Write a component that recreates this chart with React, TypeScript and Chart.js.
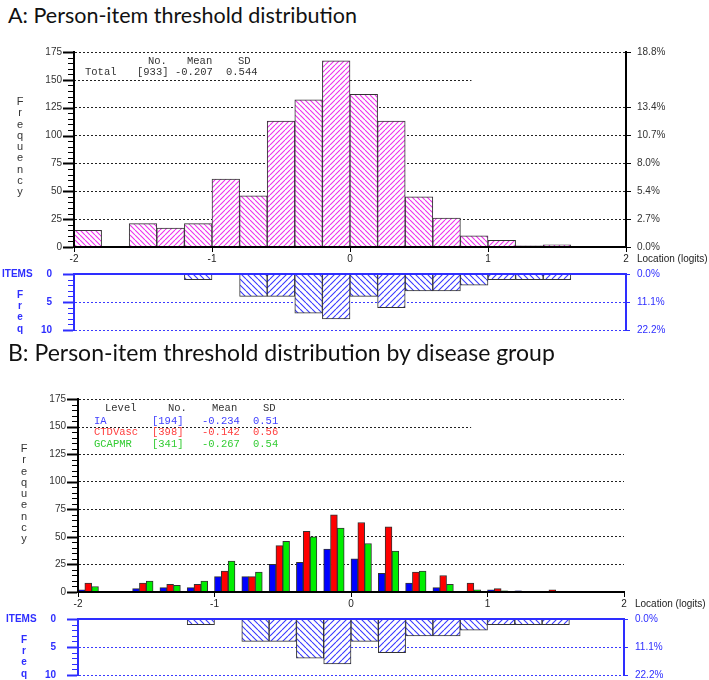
import React, { useEffect, useRef } from 'react';
import { Chart, registerables } from 'chart.js';

Chart.register(...registerables);

// ---------------- data ----------------
const binStarts = ['-2.0', '-1.8', '-1.6', '-1.4', '-1.2', '-1.0', '-0.8', '-0.6', '-0.4', '-0.2',
  '0.0', '0.2', '0.4', '0.6', '0.8', '1.0', '1.2', '1.4', '1.6', '1.8'];
const totalCounts = [15, 0, 21, 17, 21, 61, 46, 113, 132, 167, 137, 113, 45, 26, 10, 6, 1, 2, 0, 0];
const iaCounts = [2, 0, 3, 4, 4, 14, 14, 25, 27, 39, 30, 17, 8, 4, 0, 2, 1, 0, 0, 0];
const ctdCounts = [8, 0, 8, 7, 7, 19, 14, 42, 55, 70, 63, 59, 18, 15, 8, 3, 0, 2, 0, 0];
const gcaCounts = [5, 0, 10, 6, 10, 28, 18, 46, 50, 58, 44, 37, 19, 7, 2, 1, 0, 0, 0, 0];
const itemCounts = [0, 0, 0, 0, 1, 0, 4, 4, 7, 8, 4, 6, 3, 3, 2, 1, 1, 1, 0, 0];

const xTicks = [-2, -1, 0, 1, 2];
const freqTicks = [0, 25, 50, 75, 100, 125, 150, 175];
const pctTicks = ['0.0%', '2.7%', '5.4%', '8.0%', '10.7%', '13.4%', '', '18.8%'];
const itemTicks = [0, 5, 10];
const itemPctTicks = ['0.0%', '11.1%', '22.2%'];
const partialGridValue = 150;
const partialGridEnd = 0.88;

const statHeaderA = ['No.', 'Mean', 'SD'];
const totalStats = ['Total', '[933]', '-0.207', '0.544'];
const statHeaderB = ['Level', 'No.', 'Mean', 'SD'];
const groupNames = ['IA', 'CTDVasc', 'GCAPMR'];
const groupN = ['[194]', '[398]', '[341]'];
const groupMean = ['-0.234', '-0.142', '-0.267'];
const groupSD = ['0.51', '0.56', '0.54'];

// ---------------- styles ----------------
const FONT = '"Liberation Sans", Arial, sans-serif';
const NARROW = '"Liberation Sans Narrow", "Liberation Sans", Arial, sans-serif';
const MONO = '"Liberation Mono", "Courier New", monospace';
const GRID = '#222';
const BLUE = '#2e2eff';
const BLUE_LINE = '#3a3aff';
const GROUP_BAR = ['#0000ff', '#ff0000', '#00ee00'];
const GROUP_TEXT = ['#4040ff', '#ff4040', '#33cc33'];
const CLEAR = 'rgba(0,0,0,0)';

function hatch(ctx: CanvasRenderingContext2D, color: string, forward: boolean, size: number, lw: number) {
  const c = document.createElement('canvas');
  c.width = size;
  c.height = size;
  const g = c.getContext('2d') as CanvasRenderingContext2D;
  g.fillStyle = '#ffffff';
  g.fillRect(0, 0, size, size);
  g.strokeStyle = color;
  g.lineWidth = lw;
  g.beginPath();
  for (const k of [-size, 0, size]) {
    if (forward) {
      g.moveTo(k, size);
      g.lineTo(k + size, 0);
    } else {
      g.moveTo(k, 0);
      g.lineTo(k + size, size);
    }
  }
  g.stroke();
  return ctx.createPattern(c, 'repeat') as CanvasPattern;
}

function leftTicks(chart: any, id: string, minor: number, major: number, color: string) {
  const s = chart.scales[id];
  const ctx = chart.ctx as CanvasRenderingContext2D;
  const x = chart.chartArea.left - 1;
  ctx.save();
  ctx.strokeStyle = color;
  const n = Math.round((s.max - s.min) / minor);
  for (let i = 0; i <= n; i++) {
    const v = s.min + i * minor;
    const isMajor = Math.abs(v % major) < 1e-9;
    const y = Math.round(s.getPixelForValue(v)) + 0.5;
    ctx.lineWidth = isMajor ? 2 : 1;
    ctx.beginPath();
    ctx.moveTo(x - (isMajor ? 10 : 5), y);
    ctx.lineTo(x, y);
    ctx.stroke();
  }
  ctx.restore();
}

function stackLetters(ctx: CanvasRenderingContext2D, text: string, x: number, y0: number, step: number, font: string, color: string) {
  ctx.save();
  ctx.font = font;
  ctx.fillStyle = color;
  ctx.textAlign = 'center';
  ctx.textBaseline = 'middle';
  Array.from(text).forEach((ch, i) => ctx.fillText(ch, x, y0 + i * step));
  ctx.restore();
}

function txt(ctx: CanvasRenderingContext2D, s: string, x: number, y: number, font: string, color: string) {
  ctx.save();
  ctx.font = font;
  ctx.fillStyle = color;
  ctx.textAlign = 'left';
  ctx.textBaseline = 'middle';
  ctx.fillText(s, x, y);
  ctx.restore();
}

function xlScale(height: number) {
  return {
    type: 'linear',
    axis: 'x',
    position: 'bottom',
    min: -2,
    max: 2,
    offset: false,
    afterBuildTicks: (s: any) => { s.ticks = xTicks.map((v) => ({ value: v })); },
    afterFit: (s: any) => { s.height = height; },
    grid: { display: true, offset: false, drawOnChartArea: false, drawTicks: true, tickLength: 5, tickColor: '#000', tickWidth: 1 },
    border: { display: true, color: '#000', width: 2, z: 1 },
    ticks: { font: { family: FONT, size: 10 }, color: '#222', padding: 1, maxRotation: 0, autoSkip: false, callback: (v: any) => String(v) },
  };
}

function freqScale(width: number) {
  return {
    type: 'linear',
    position: 'left',
    min: 0,
    max: 175,
    afterBuildTicks: (s: any) => { s.ticks = freqTicks.map((v) => ({ value: v })); },
    afterFit: (s: any) => { s.width = width; },
    grid: {
      drawTicks: false,
      lineWidth: 1,
      color: (c: any) => (c.tick && (c.tick.value === 0 || c.tick.value === partialGridValue) ? CLEAR : GRID),
    },
    border: { display: true, color: '#000', width: 2, dash: [2, 2], z: 1 },
    ticks: { font: { family: FONT, size: 10 }, color: '#333', padding: 12 },
  };
}

function histDecor(drawStats: (chart: any) => void) {
  return {
    id: 'histDecor',
    beforeDatasetsDraw(chart: any) {
      const { ctx, chartArea } = chart;
      const py = Math.round(chart.scales.y.getPixelForValue(partialGridValue)) + 0.5;
      ctx.save();
      ctx.strokeStyle = GRID;
      ctx.lineWidth = 1;
      ctx.setLineDash([2, 2]);
      ctx.beginPath();
      ctx.moveTo(chartArea.left, py);
      ctx.lineTo(chart.scales.xl.getPixelForValue(partialGridEnd), py);
      ctx.stroke();
      ctx.restore();
    },
    afterDraw(chart: any) {
      const { ctx, chartArea } = chart;
      leftTicks(chart, 'y', 5, 25, '#000');
      stackLetters(ctx, 'Frequency', chartArea.left - 54, chartArea.top + 50, 11.25, `11px ${FONT}`, '#333');
      txt(ctx, 'Location (logits)', chartArea.right + 11, chartArea.bottom + 12, `10px ${FONT}`, '#222');
      drawStats(chart);
    },
  };
}

const MONO_FONT = `10.5px ${MONO}`;

function statsA(chart: any) {
  const { ctx, chartArea } = chart;
  const L = chartArea.left;
  const T = chartArea.top;
  const hx = [74, 113, 164];
  statHeaderA.forEach((s, i) => txt(ctx, s, L + hx[i], T + 9, MONO_FONT, '#333'));
  const rx = [11, 63, 101, 152];
  totalStats.forEach((s, i) => txt(ctx, s, L + rx[i], T + 20, MONO_FONT, '#333'));
}

function statsB(chart: any) {
  const { ctx, chartArea } = chart;
  const L = chartArea.left;
  const T = chartArea.top;
  const hx = [27, 90, 134, 185];
  statHeaderB.forEach((s, i) => txt(ctx, s, L + hx[i], T + 9, MONO_FONT, '#333'));
  groupNames.forEach((name, g) => {
    const y = T + 22 + g * 11.5;
    txt(ctx, name, L + 16, y, MONO_FONT, GROUP_TEXT[g]);
    txt(ctx, groupN[g], L + 74, y, MONO_FONT, GROUP_TEXT[g]);
    txt(ctx, groupMean[g], L + 124, y, MONO_FONT, GROUP_TEXT[g]);
    txt(ctx, groupSD[g], L + 175, y, MONO_FONT, GROUP_TEXT[g]);
  });
}

const baseOptions = {
  animation: false,
  responsive: false,
  devicePixelRatio: 1,
  plugins: { legend: { display: false }, tooltip: { enabled: false }, title: { display: false } },
};

function histAConfig(ctx: CanvasRenderingContext2D): any {
  const pats = [hatch(ctx, '#ee33ee', false, 5, 1.1), hatch(ctx, '#ee33ee', true, 5, 1.1)];
  return {
    type: 'bar',
    data: {
      labels: binStarts,
      datasets: [{
        label: 'Total',
        data: totalCounts,
        xAxisID: 'x',
        yAxisID: 'y',
        backgroundColor: (c: any) => pats[c.dataIndex % 2],
        borderColor: '#333',
        borderWidth: 1,
        barPercentage: 1,
        categoryPercentage: 1,
      }],
    },
    options: {
      ...baseOptions,
      layout: { padding: { top: 22, left: 0, right: 0, bottom: 0 } },
      scales: {
        x: { type: 'category', display: false },
        xl: xlScale(23),
        y: freqScale(74),
        y1: {
          type: 'linear',
          position: 'right',
          min: 0,
          max: 175,
          afterBuildTicks: (s: any) => { s.ticks = freqTicks.map((v) => ({ value: v })); },
          afterFit: (s: any) => { s.width = 83; },
          grid: {
            drawOnChartArea: false,
            drawTicks: true,
            tickLength: 5,
            tickWidth: 1,
            tickColor: (c: any) => (pctTicks[c.index] ? '#000' : CLEAR),
          },
          border: { display: true, color: '#000', width: 2, z: 1 },
          ticks: { font: { family: FONT, size: 10 }, color: '#333', padding: 6, callback: (_v: any, i: number) => pctTicks[i] },
        },
      },
    },
    plugins: [histDecor(statsA)],
  };
}

function histBConfig(_ctx: CanvasRenderingContext2D): any {
  const groups = [iaCounts, ctdCounts, gcaCounts];
  const datasets: any[] = groups.map((d, g) => ({
    label: groupNames[g],
    data: d,
    xAxisID: 'x',
    yAxisID: 'y',
    backgroundColor: GROUP_BAR[g],
    borderColor: '#333',
    borderWidth: 1,
    barPercentage: 1,
    categoryPercentage: 1,
  }));
  // empty fourth slot: keeps each group at the left three quarters of its bin
  datasets.push({
    label: '',
    data: binStarts.map(() => null),
    xAxisID: 'x',
    yAxisID: 'y',
    backgroundColor: CLEAR,
    borderWidth: 0,
    barPercentage: 1,
    categoryPercentage: 1,
  });
  return {
    type: 'bar',
    data: { labels: binStarts, datasets },
    options: {
      ...baseOptions,
      layout: { padding: { top: 29, left: 0, right: 85, bottom: 0 } },
      scales: {
        x: { type: 'category', display: false },
        xl: xlScale(18),
        y: freqScale(78),
      },
    },
    plugins: [histDecor(statsB)],
  };
}

function itemsConfig(ctx: CanvasRenderingContext2D, leftW: number, rightW: number): any {
  const pats = [hatch(ctx, BLUE_LINE, false, 6, 1.1), hatch(ctx, BLUE_LINE, true, 6, 1.1)];
  return {
    type: 'bar',
    data: {
      labels: binStarts,
      datasets: [{
        label: 'Items',
        data: itemCounts,
        xAxisID: 'x',
        yAxisID: 'y',
        backgroundColor: (c: any) => pats[c.dataIndex % 2],
        borderColor: '#333',
        borderWidth: 1,
        barPercentage: 1,
        categoryPercentage: 1,
      }],
    },
    options: {
      ...baseOptions,
      layout: { padding: { top: 13, left: 0, right: 0, bottom: 13 } },
      scales: {
        x: { type: 'category', display: false },
        y: {
          type: 'linear',
          position: 'left',
          reverse: true,
          min: 0,
          max: 10,
          afterBuildTicks: (s: any) => { s.ticks = itemTicks.map((v) => ({ value: v })); },
          afterFit: (s: any) => { s.width = leftW; },
          grid: {
            drawTicks: true,
            tickLength: 20,
            tickColor: CLEAR,
            lineWidth: 1,
            color: (c: any) => (c.tick && c.tick.value === 0 ? CLEAR : BLUE_LINE),
          },
          border: { display: true, color: BLUE, width: 2, dash: [2, 2], z: 1 },
          ticks: { font: { family: FONT, size: 10, weight: 'bold' }, color: BLUE, padding: 2 },
        },
        y1: {
          type: 'linear',
          position: 'right',
          reverse: true,
          min: 0,
          max: 10,
          afterBuildTicks: (s: any) => { s.ticks = itemTicks.map((v) => ({ value: v })); },
          afterFit: (s: any) => { s.width = rightW; },
          grid: { drawOnChartArea: false, drawTicks: true, tickLength: 4, tickWidth: 1, tickColor: BLUE },
          border: { display: true, color: BLUE, width: 2, z: 1 },
          ticks: { font: { family: FONT, size: 10 }, color: BLUE, padding: 7, callback: (_v: any, i: number) => itemPctTicks[i] },
        },
      },
    },
    plugins: [{
      id: 'itemsDecor',
      afterDatasetsDraw(chart: any) {
        const { ctx: c, chartArea } = chart;
        const y = Math.round(chart.scales.y.getPixelForValue(0));
        c.save();
        c.strokeStyle = BLUE;
        c.lineWidth = 2;
        c.beginPath();
        c.moveTo(chartArea.left, y);
        c.lineTo(chartArea.right, y);
        c.stroke();
        c.restore();
      },
      afterDraw(chart: any) {
        const { ctx: c, chartArea } = chart;
        leftTicks(chart, 'y', 1, 5, BLUE);
        txt(c, 'ITEMS', chartArea.left - 72, chartArea.top, `bold 10px ${NARROW}`, BLUE);
        stackLetters(c, 'Freq', chartArea.left - 54, chartArea.top + 21, 11.3, `bold 10px ${FONT}`, BLUE);
      },
    }],
  };
}

const titleStyle = (top: number, size: number): React.CSSProperties => ({
  position: 'absolute',
  left: 8,
  top,
  fontFamily: 'Lato, "Open Sans", sans-serif',
  fontSize: size,
  lineHeight: '26px',
  color: '#111',
  whiteSpace: 'nowrap',
});

const canvasStyle = (top: number, height: number): React.CSSProperties => ({
  position: 'absolute',
  left: 0,
  top,
  width: 709,
  height,
  display: 'block',
});

export default function App() {
  const aHist = useRef<HTMLCanvasElement>(null);
  const aItems = useRef<HTMLCanvasElement>(null);
  const bHist = useRef<HTMLCanvasElement>(null);
  const bItems = useRef<HTMLCanvasElement>(null);

  useEffect(() => {
    const charts: Chart[] = [];
    const mk = (cv: HTMLCanvasElement | null, fn: (ctx: CanvasRenderingContext2D) => any) => {
      if (!cv) return;
      const ctx = cv.getContext('2d') as CanvasRenderingContext2D;
      charts.push(new Chart(cv, fn(ctx)));
    };
    mk(aHist.current, histAConfig);
    mk(aItems.current, (ctx) => itemsConfig(ctx, 74, 83));
    mk(bHist.current, histBConfig);
    mk(bItems.current, (ctx) => itemsConfig(ctx, 78, 85));
    return () => charts.forEach((c) => c.destroy());
  }, []);

  return (
    <div style={{ position: 'absolute', left: 0, top: 0, width: 709, height: 680, overflow: 'hidden', background: '#fff' }}>
      <div style={titleStyle(2, 21.5)}>A: Person-item threshold distribution</div>
      <canvas ref={aHist} width={709} height={240} style={canvasStyle(30, 240)} />
      <canvas ref={aItems} width={709} height={82} style={canvasStyle(261, 82)} />
      <div style={titleStyle(339, 23)}>B: Person-item threshold distribution by disease group</div>
      <canvas ref={bHist} width={709} height={240} style={canvasStyle(370, 240)} />
      <canvas ref={bItems} width={709} height={82} style={canvasStyle(606, 82)} />
    </div>
  );
}
